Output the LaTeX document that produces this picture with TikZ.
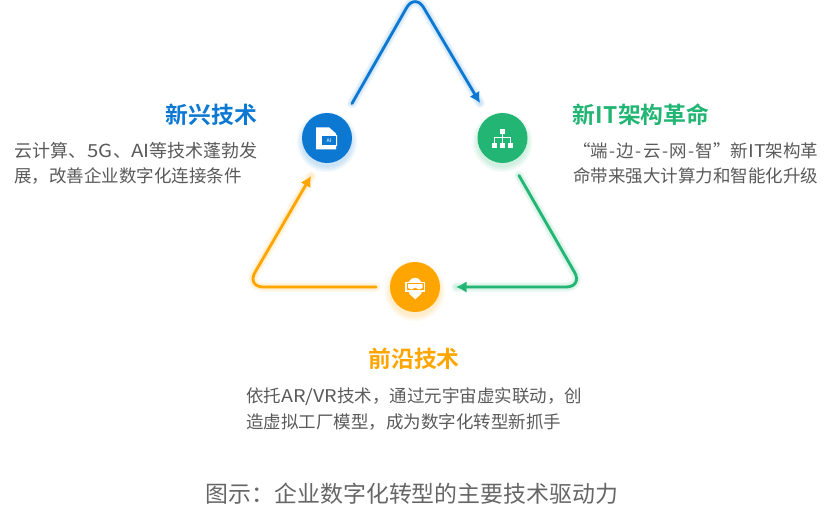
\documentclass[tikz,border=0pt]{standalone}
\usepackage{fontspec}
\setmainfont{Noto Sans CJK SC}[BoldFont={Noto Sans CJK SC Bold}]
\newfontfamily\latw{Noto Sans CJK SC}[FakeStretch=1.13]
\usetikzlibrary{arrows.meta}
\definecolor{cblue}{HTML}{0C78D2}
\definecolor{cgreen}{HTML}{22B573}
\definecolor{corange}{HTML}{FFA500}
\definecolor{ctext}{HTML}{5A5A5A}
\definecolor{ccap}{HTML}{666666}
\newcommand\wh{\kern1.35pt-\kern1.35pt}
\tikzset{
  x=1pt,y=-1pt,
  disc/.style={circle,minimum size=50pt,inner sep=0pt,fill=#1},
  flow/.style={draw=#1,line width=2.8pt,rounded corners=17pt,line cap=round},
  tipped/.style={-{Latex[length=10.5pt,width=11.5pt]}},
  halo/.style={draw=#1,line cap=round,rounded corners=17pt,opacity=0.055},
  headtext/.style={font=\fontsize{22.8}{26}\selectfont\bfseries,inner sep=0pt},
  bodytext/.style={font=\fontsize{17.5}{24}\selectfont,text=ctext,inner sep=0pt,anchor=west},
  captext/.style={font=\fontsize{22.9}{26}\selectfont,text=ccap,inner sep=0pt},
}
\begin{document}
\begin{tikzpicture}
\useasboundingbox (0,0) rectangle (831,523);
\coordinate (bs) at (352,103.5);
\coordinate (bc) at (415,-7);
\coordinate (be) at (480,103);
\coordinate (gs) at (519,175.5);
\coordinate (gc) at (583,287);
\coordinate (ge) at (456,287);
\coordinate (os) at (376,287);
\coordinate (oc) at (246.5,287);
\coordinate (oe) at (311,176);
\foreach \w in {4,6,8,10}{
  \begin{scope}[yshift=-3pt]
  \draw[halo=cblue,line width=\w pt] (bs)--(bc)--(be);
  \draw[halo=cgreen,line width=\w pt] (gs)--(gc)--(ge);
  \draw[halo=corange,line width=\w pt] (os)--(oc)--(oe);
  \end{scope}
}
\foreach \r/\c/\x/\y in {51/cblue/327/138,54/cblue/327/138,57/cblue/327/138,60/cblue/327/138,51/cgreen/502.5/138,54/cgreen/502.5/138,57/cgreen/502.5/138,60/cgreen/502.5/138,51/corange/415/287,54/corange/415/287,57/corange/415/287,60/corange/415/287}{
  \fill[\c,opacity=0.055] (\x,\y+4) circle[radius=\r/2];
}
\node[disc=cblue] (nb) at (327,138) {};
\node[disc=cgreen] (ng) at (502.5,138) {};
\node[disc=corange] (no) at (415,287) {};
\draw[flow=cblue,tipped] (bs)--(bc)--(be);
\draw[flow=cgreen,tipped] (gs)--(gc)--(ge);
\draw[flow=corange,tipped] (os)--(oc)--(oe);
% AI file icon
\fill[white] (316,127.3) -- (329,127.3) -- (336,133.5) -- (336,135) -- (337,135) -- (337,146) -- (336,146) -- (336,149.3) -- (316,149.3) -- cycle;
\fill[cblue] (322,136) rectangle (336,145);
\node[font=\fontsize{5}{5}\selectfont\bfseries,text=white!75!cblue,inner sep=0pt] (ailabel) at (329,140.5) {AI};
% hierarchy icon
\fill[white] (500,129.3) rectangle (505,134.3);
\fill[white] (491.7,143.3) rectangle (496.7,147.7);
\fill[white] (500,143.3) rectangle (505,147.7);
\fill[white] (508.3,143.3) rectangle (513.3,147.7);
\draw[white,line width=0.7pt] (502.5,134)--(502.5,143) (494.2,143)--(494.2,137.8)--(510.8,137.8)--(510.8,143);
% VR head icon
\fill[white] (408.7,282) .. controls (411,276.3) and (419,276.3) .. (421.3,282) -- cycle;
\fill[white] (405.3,281.7) rectangle (425.3,291.7);
\fill[white] (408.5,291) -- (409.5,294) -- (415.3,299.3) -- (421,294) -- (422,291) -- cycle;
\fill[corange] (406.5,283) rectangle (424,290.3);
\fill[white] (408,284.2) -- (422.6,284.2) -- (422.6,288) -- (419,289.4) -- (415.3,287.6) -- (411.5,289.4) -- (408,288) -- cycle;
% labels
\node[headtext,text=cblue] (t1) at (211.5,115) {新兴技术};
\node[bodytext,font=\fontsize{18}{24}\selectfont] (b1a) at (14,151) {云计算、\kern1.5pt{\latw 5G}、\kern0.5pt{\latw AI}等技术蓬勃发};
\node[bodytext] (b1b) at (14,176) {展，改善企业数字化连接条件};
\node[headtext,text=cgreen,anchor=west] (t2) at (572,115) {新\kern0.8pt IT\kern0.5pt 架构革命};
\node[bodytext] (b2a) at (573,151) {“端\wh 边\wh 云\wh 网\wh 智”新{\latw IT}架构革};
\node[bodytext] (b2b) at (573,176) {命带来强大计算力和智能化升级};
\node[headtext,text=corange] (t3) at (414,359) {前沿技术};
\node[bodytext] (b3a) at (246,397) {依托{\latw AR/VR}技术，通过元宇宙虚实联动，创};
\node[bodytext] (b3b) at (246,422) {造虚拟工厂模型，成为数字化转型新抓手};
\node[captext] (cp) at (412,494) {图示：企业数字化转型的主要技术驱动力};
\end{tikzpicture}
\end{document}
